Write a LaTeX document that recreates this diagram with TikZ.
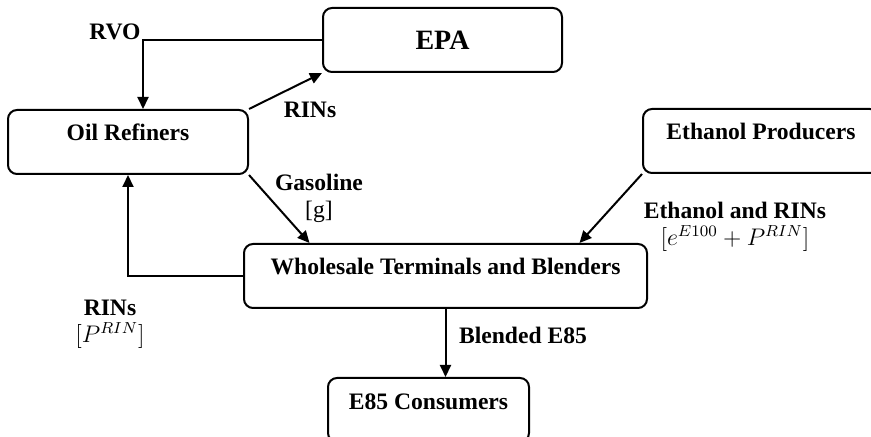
\documentclass[tikz,border=0pt]{standalone}
\usepackage{fontspec}
\setmainfont{Liberation Serif}
\usetikzlibrary{arrows.meta}

\def\boxheight{32pt}
\def\textrise{15.5pt}
\def\textsink{16.5pt}

\begin{document}
\begin{tikzpicture}[x=0.5pt, y=-0.5pt,
    nodes = {font=\bfseries\fontsize{11.8}{13.5}\selectfont},
    box/.style = {draw, line width=1pt, rounded corners=4.5pt,
      inner xsep=0pt, inner ysep=0pt},
    topbox/.style = {box, anchor=north, text height=\textrise,
      text depth=\textsink},
    arr/.style = {line width=1pt, -{Triangle[length=6pt,width=5.5pt]}},
    lbl/.style = {inner sep=0pt, align=center}]
  \useasboundingbox (0,0) rectangle (871,437);

  % Agencies and market players
  \node[box, minimum width=119.5pt, minimum height=\boxheight,
    font=\bfseries\fontsize{14}{16}\selectfont] (epa) at (442.5,40) {EPA};
  \foreach \name/\x/\y/\w/\txt in {
      oil/128/109/120pt/{Oil Refiners},
      eth/761/108/118pt/{Ethanol Producers},
      whole/445.5/243/201.5pt/{Wholesale Terminals and Blenders},
      cons/428.5/377/100.5pt/{E85 Consumers}
    } {
      \node[topbox, minimum width=\w] (\name) at (\x,\y) {\txt};
    }

  % Flows between them
  \draw[arr] (epa.west) -| ([xshift=7.5pt]oil.north);       % obligation
  \draw[arr] (oil.north east) -- (epa.south west);          % RINs retired
  \draw[arr] (oil.south east) -- ([xshift=-68pt]whole.north);
  \draw[arr] (eth.south west) -- ([xshift=67pt]whole.north);
  \draw[arr] (whole.west) -| (oil.south);                   % RINs sold back
  \draw[arr] (whole.south) -- (whole.south |- cons.north);

  % Flow labels
  \node[lbl] (rvo) at (115,32) {RVO};
  \node[lbl] (rinsup) at (310,110) {RINs};
  \node[lbl] (gas) at (319,198) {Gasoline\\{\mdseries[g]}};
  \node[lbl] (rinsdown) at (110,324) {RINs\\{\mdseries$[P^{RIN}]$}};
  \node[lbl] (ethrins) at (735,227) {Ethanol and RINs\\{\mdseries$[e^{E100}+P^{RIN}]$}};
  \node[lbl] (blend) at (523,335) {Blended E85};
\end{tikzpicture}
\end{document}
